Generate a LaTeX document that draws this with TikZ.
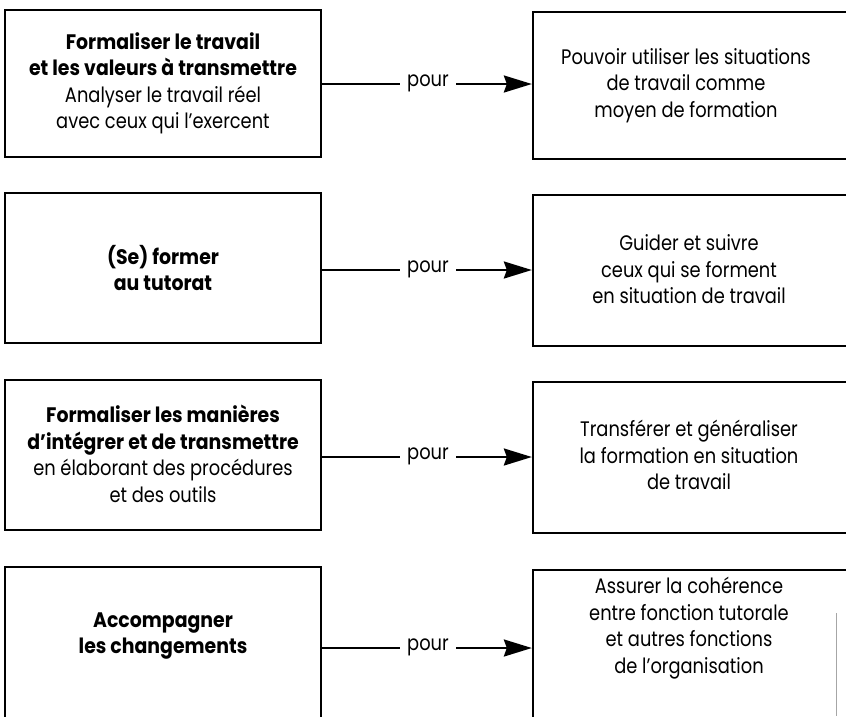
\documentclass[tikz,border=0pt]{standalone}
\usepackage{fontspec}
\setmainfont{Poppins}[FakeStretch=0.85, BoldFeatures={FakeStretch=0.90}]
\usetikzlibrary{arrows.meta}
\begin{document}
\begin{tikzpicture}[x=1pt,y=-1pt,
  box/.style={draw, line width=2.3pt, minimum width=316pt, inner sep=0pt},
  rbox/.style={draw, line width=2.3pt, minimum width=318pt, inner sep=0pt},
  txt/.style={align=center, font=\fontsize{21}{26.5}\selectfont, inner sep=0pt},
  pourlbl/.style={font=\fontsize{21}{26.5}\selectfont, inner sep=0pt, text height=0.55em, text depth=0pt, minimum width=56pt},
  conn/.style={line width=2.3pt},
  arr/.style={conn, -{Stealth[length=28pt,width=17pt,inset=3pt]}}]
\useasboundingbox (0,0) rectangle (846,716);
\clip (0,0) rectangle (846,716);
% row 1
\node[box, minimum height=147pt] (L1) at (163,83.5) {};
\node[rbox, minimum height=147pt] (R1) at (692,85.5) {};
\node[txt] (TL1) at (163,83.5) {\textbf{Formaliser le travail}\\\textbf{et les valeurs à transmettre}\\Analyser le travail réel\\avec ceux qui l’exercent};
\node[txt] (TR1) at (686,85.5) {Pouvoir utiliser les situations\\de travail comme\\moyen de formation};
\node[pourlbl] (P1) at (428,84) {pour};
\draw[conn] (P1.west -| L1.east) -- (P1.west);
\draw[arr] (P1.east) -- (P1.east -| R1.west);
% row 2
\node[box, minimum height=150pt] (L2) at (163,268) {};
\node[rbox, minimum height=151pt] (R2) at (692,270.5) {};
\node[txt] (TL2) at (163,268) {\textbf{(Se) former}\\\textbf{au tutorat}};
\node[txt] (TR2) at (689,269.5) {Guider et suivre\\ceux qui se forment\\en situation de travail};
\node[pourlbl] (P2) at (428,270) {pour};
\draw[conn] (P2.west -| L2.east) -- (P2.west);
\draw[arr] (P2.east) -- (P2.east -| R2.west);
% row 3
\node[box, minimum height=150pt] (L3) at (163,455) {};
\node[rbox, minimum height=151pt] (R3) at (692,457.5) {};
\node[txt] (TL3) at (163,454) {\textbf{Formaliser les manières}\\\textbf{d’intégrer et de transmettre}\\en élaborant des procédures\\et des outils};
\node[txt] (TR3) at (689,455) {Transférer et généraliser\\la formation en situation\\de travail};
\node[pourlbl] (P3) at (428,457) {pour};
\draw[conn] (P3.west -| L3.east) -- (P3.west);
\draw[arr] (P3.east) -- (P3.east -| R3.west);
% row 4
\node[box, minimum height=180pt] (L4) at (163,657) {};
\node[rbox, minimum height=180pt] (R4) at (692,660) {};
\node[txt] (TL4) at (163,636) {\textbf{Accompagner}\\\textbf{les changements}};
\node[txt] (TR4) at (689,628) {Assurer la cohérence\\entre fonction tutorale\\et autres fonctions\\de l’organisation};
\node[pourlbl] (P4) at (428,648) {pour};
\draw[conn] (P4.west -| L4.east) -- (P4.west);
\draw[arr] (P4.east) -- (P4.east -| R4.west);
% scan streak
\coordinate (S1) at (836,613);
\coordinate (S2) at (836,716);
\draw[black!35, line width=0.8pt] (S1) -- (S2);
\end{tikzpicture}
\end{document}
